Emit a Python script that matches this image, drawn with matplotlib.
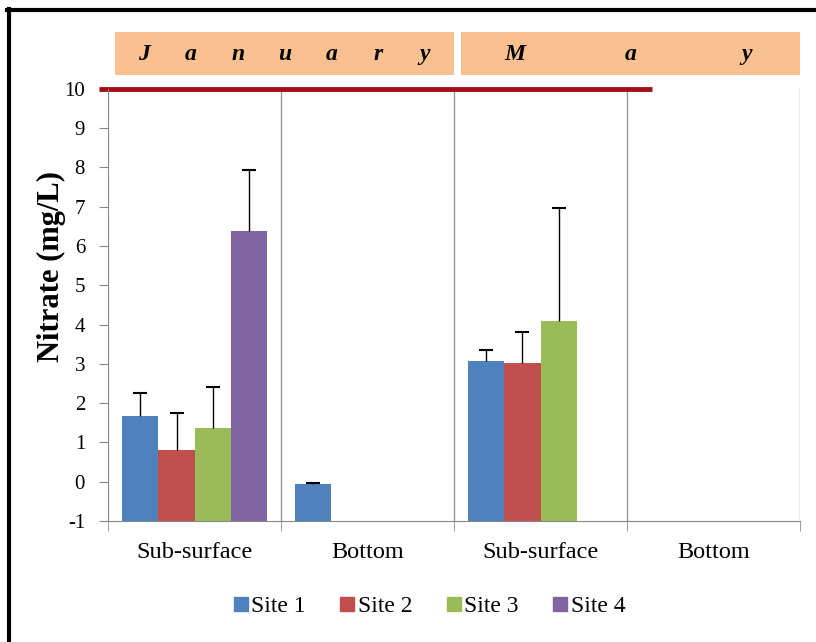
import matplotlib
matplotlib.use("Agg")
import matplotlib.pyplot as plt
from matplotlib.patches import Rectangle
from matplotlib.lines import Line2D
import numpy as np

plt.rcParams['font.family'] = ['Liberation Serif', 'DejaVu Serif']
plt.rcParams['axes.unicode_minus'] = False

categories = ['Sub-surface', 'Bottom', 'Sub-surface', 'Bottom']
sites = ['Site 1', 'Site 2', 'Site 3', 'Site 4']
colors = ['#4F81BD', '#C0504D', '#9BBB59', '#8064A2']

# mean nitrate per site (nan = no data)
site1 = [1.68, -0.05, 3.08, np.nan]
site2 = [0.80, np.nan, 3.03, np.nan]
site3 = [1.37, np.nan, 4.08, np.nan]
site4 = [6.38, np.nan, np.nan, np.nan]
# upper error (standard deviation)
err1 = [0.58, 0.01, 0.27, 0]
err2 = [0.96, 0, 0.77, 0]
err3 = [1.05, 0, 2.90, 0]
err4 = [1.55, 0, 0, 0]

months = ['January', 'May']

values = [site1, site2, site3, site4]
errors = [err1, err2, err3, err4]

fig = plt.figure(figsize=(8.16, 6.42), dpi=100)
ax = fig.add_axes([0.1324, 0.1885, 0.848, 0.673])

base = -1
x = np.arange(len(categories))
w = 1 / 4.8
for i in range(4):
    v = np.array(values[i])
    e = np.array(errors[i])
    pos = x + (i - 1.5) * w
    ax.bar(pos, v - base, w, bottom=base, color=colors[i], label=sites[i])
    eb = ax.errorbar(pos, v, yerr=[np.zeros_like(e), e], fmt='none',
                     ecolor='black', elinewidth=1, capsize=5, capthick=1.5)
    eb[1][0].set_visible(False)  # no cap on the lower end

ax.set_xlim(-0.5, 3.5)
ax.set_ylim(-1, 10)
ax.set_yticks(range(-1, 11))
ax.tick_params(axis='y', labelsize=15, length=6.5, pad=10, color='#888888',
               direction='out')
ax.set_xticks(x)
ax.set_xticklabels(categories, fontsize=17.5)
ax.set_xticks(np.arange(-0.5, 4, 1), minor=True)
ax.tick_params(axis='x', which='major', length=0, pad=15)
ax.tick_params(axis='x', which='minor', length=7, color='#888888')
for b in np.arange(0.5, 4, 1):
    ax.axvline(b, color='#999999', lw=1)
for s in ['top', 'right']:
    ax.spines[s].set_visible(False)
ax.spines['left'].set_color('#888888')
ax.spines['bottom'].set_color('#888888')
ax.set_ylabel('Nitrate (mg/L)', fontsize=22, fontweight='bold')
ax.yaxis.set_label_coords(-0.061, 0.59)

# red line on top
ax.plot([-0.552, 2.645], [10, 10], color='#A00F14', lw=3.5, clip_on=False,
        solid_capstyle='butt')

# month header boxes
spans = [(-0.46, 1.5), (1.54, 3.5)]
for m, (a, b) in zip(months, spans):
    ax.add_patch(Rectangle((a, 10.36), b - a, 1.08, facecolor='#FAC090',
                           edgecolor='none', clip_on=False))
    letters = list(m[0] + m[-2:]) if m == 'May' else list(m)
    pad = 0.17 if len(letters) > 3 else 0.31
    xs = np.linspace(a + pad, b - pad, len(letters))
    for xx, ch in zip(xs, letters):
        ax.text(xx, 10.88, ch, fontsize=17, fontweight='bold', style='italic',
                ha='center', va='center', clip_on=False)

handles = [Line2D([], [], marker='s', linestyle='none', color=c, markersize=10)
           for c in colors]
fig.legend(handles, sites, loc='center', bbox_to_anchor=(0.52, 0.055), ncol=4,
           frameon=False, fontsize=17, handletextpad=-0.3, columnspacing=1.0,
           handlelength=1.5)

# outer frame (left and top only visible)
fig.add_artist(Line2D([0.011, 0.011], [0, 0.986], color='black', lw=3,
                      transform=fig.transFigure))
fig.add_artist(Line2D([0.009, 1], [0.984, 0.984], color='black', lw=3,
                      transform=fig.transFigure))

fig.savefig('out.png', dpi=100)
